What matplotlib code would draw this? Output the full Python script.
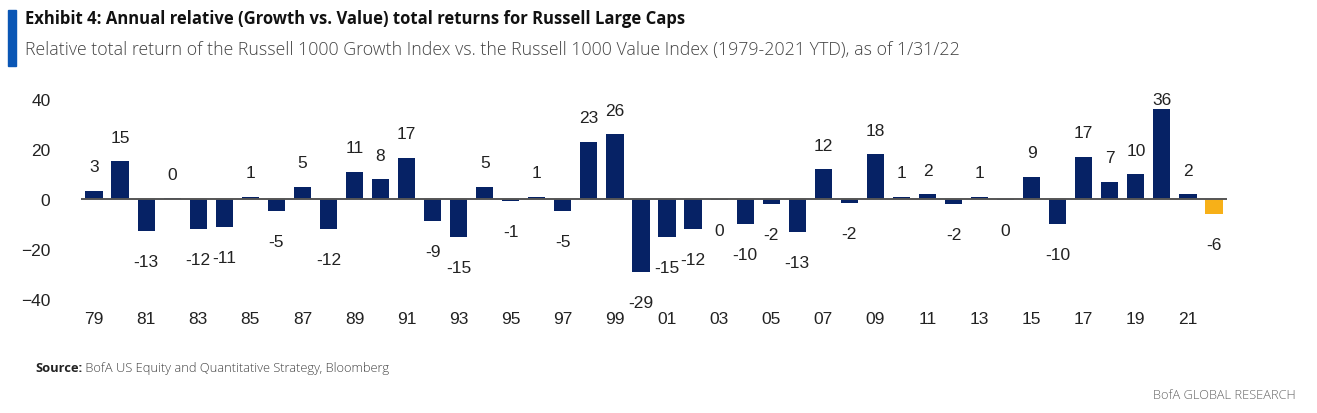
import matplotlib.pyplot as plt
from matplotlib.patches import Rectangle

# annual relative return, Russell 1000 Growth vs Value (pct pts)
years = list(range(1979, 2023))
rel_return = [3.4, 15.2, -12.6, 0.3, -12.0, -11.0, 1.0, -4.6, 5.0, -11.8,
              11.0, 8.0, 16.6, -8.7, -15.0, 5.0, -0.6, 1.0, -4.8, 23.0,
              26.0, -29.0, -15.0, -12.0, -0.3, -10.0, -1.8, -13.0, 12.0, -1.5,
              18.0, 1.0, 2.0, -2.0, 1.0, -0.3, 9.0, -10.0, 17.0, 7.0,
              10.0, 36.0, 2.0, -6.0]
ytd_year = 2022

title = "Exhibit 4: Annual relative (Growth vs. Value) total returns for Russell Large Caps"
subtitle = ("Relative total return of the Russell 1000 Growth Index vs. the Russell 1000 "
            "Value Index (1979-2021 YTD), as of 1/31/22")

navy = "#062265"
gold = "#f7b018"

fig = plt.figure(figsize=(13.17, 4.14), dpi=100)
ax = fig.add_axes([81 / 1317, 1 - 300 / 414, (1227 - 81) / 1317, 200 / 414])

x = list(range(len(years)))
colors = [gold if y == ytd_year else navy for y in years]
ax.bar(x, rel_return, width=0.66, color=colors, zorder=2)
ax.axhline(0, color="#555555", lw=1.4, zorder=3)

for xi, v in zip(x, rel_return):
    lab = str(int(round(v)))
    if v >= 0:
        off = 7 if v > 30 else 17
    else:
        off = -22
    ax.annotate(lab, (xi, v), xytext=(0, off), textcoords="offset points",
                ha="center", va="center", fontsize=12.5, color="#222222",
                family="Liberation Sans")

ax.set_xlim(-0.5, len(years) - 0.5)
ax.set_ylim(-40, 40)
ax.set_yticks([-40, -20, 0, 20, 40])
ax.set_xticks(x[::2])
ax.set_xticklabels([f"{y % 100:02d}" for y in years[::2]])
for s in ax.spines.values():
    s.set_visible(False)
ax.tick_params(length=0, labelsize=12.5, labelcolor="#222222")
ax.tick_params(axis="y", pad=22)
ax.tick_params(axis="x", pad=9)
for t in ax.get_xticklabels() + ax.get_yticklabels():
    t.set_family("Liberation Sans")

# header
fig.patches.append(Rectangle((8 / 1317, 1 - 67 / 414), 8 / 1317, 56 / 414,
                             transform=fig.transFigure, color="#0a56b5"))
fig.text(25 / 1317, 1 - 19 / 414, title, fontsize=12, fontweight="bold",
         family="Open Sans", va="center", color="#111111")
fig.text(25 / 1317, 1 - 50 / 414, subtitle, fontsize=12.8, fontweight="light",
         family="Open Sans", va="center", color="#444444")

# footer
src = fig.text(35 / 1317, 1 - 369 / 414, "Source:", fontsize=9.3, fontweight="bold",
               family="Open Sans", va="center", color="#222222")
ax.annotate(" BofA US Equity and Quantitative Strategy, Bloomberg", xy=(1, 0.5),
            xycoords=src, va="center", ha="left", fontsize=9.3, family="Open Sans",
            fontweight="light", color="#444444", annotation_clip=False)
fig.text(1296 / 1317, 1 - 396 / 414, "BofA GLOBAL RESEARCH", fontsize=9.3,
         family="Open Sans", fontweight="light", ha="right", va="center", color="#666666")

fig.savefig("out.png", dpi=100, facecolor="white")
